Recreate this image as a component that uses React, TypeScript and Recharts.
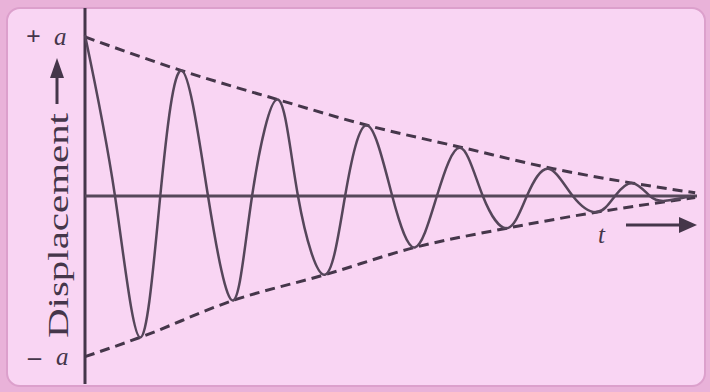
import { LineChart, Line, XAxis, YAxis, ReferenceLine } from "recharts"

// damped oscillation (t in 0..10, displacement in units of a)
const waveT = [0, 0.49, 0.9, 1.23, 1.58, 2.01, 2.42, 2.73, 3.15, 3.48, 3.92, 4.25, 4.61, 5.02, 5.39, 5.75, 6.13, 6.5, 6.9, 7.22, 7.57, 7.97, 8.37, 8.66, 8.95, 9.23, 9.48, 9.9]
const waveV = [1.0, 0, -0.88, 0, 0.78, 0, -0.65, 0, 0.6, 0, -0.49, 0, 0.44, 0, -0.32, 0, 0.3, 0, -0.2, 0, 0.17, 0, -0.1, 0, 0.08, 0, -0.03, 0]

const upperT = [0, 1.58, 3.15, 4.61, 6.18, 7.65, 8.95, 9.97]
const upperV = [0.99, 0.78, 0.6, 0.44, 0.3, 0.17, 0.08, 0.02]
const lowerT = [0, 0.9, 2.42, 3.92, 5.39, 6.9, 8.37, 9.97]
const lowerV = [-1.0, -0.88, -0.65, -0.49, -0.32, -0.2, -0.1, -0.01]

const wave = waveT.map((t, i) => ({ t, v: waveV[i] }))
const upper = upperT.map((t, i) => ({ t, v: upperV[i] }))
const lower = lowerT.map((t, i) => ({ t, v: lowerV[i] }))

const ink = "#45364a"
const serif = "'Liberation Serif', 'DejaVu Serif', serif"

export default function App() {
  return (
    <div style={{ position: "relative", width: 710, height: 392, background: "#e9b2d9", overflow: "hidden" }}>
      <style>{"body{margin:0}"}</style>
      <div
        style={{
          position: "absolute",
          left: 6,
          top: 7,
          width: 696,
          height: 376,
          background: "#f9d5f3",
          border: "2px solid #dca0cc",
          borderRadius: 14,
        }}
      />
      <div style={{ position: "absolute", left: 0, top: 0 }}>
        <LineChart width={710} height={392} data={wave} margin={{ top: 8, right: 13, bottom: 8, left: 85 }}>
          <XAxis type="number" dataKey="t" domain={[0, 10]} hide />
          <YAxis type="number" domain={[-1.17, 1.17]} hide />
          <ReferenceLine x={0} stroke={ink} strokeWidth={3} />
          <ReferenceLine y={0} stroke="#56485a" strokeWidth={3} />
          <Line
            data={upper}
            dataKey="v"
            type="monotone"
            stroke={ink}
            strokeWidth={3}
            strokeDasharray="10 6"
            dot={false}
            isAnimationActive={false}
          />
          <Line
            data={lower}
            dataKey="v"
            type="monotone"
            stroke={ink}
            strokeWidth={3}
            strokeDasharray="10 6"
            dot={false}
            isAnimationActive={false}
          />
          <Line
            dataKey="v"
            type="natural"
            stroke="#55465a"
            strokeWidth={2.5}
            dot={false}
            isAnimationActive={false}
          />
        </LineChart>
      </div>
      <svg width={710} height={392} style={{ position: "absolute", left: 0, top: 0, pointerEvents: "none" }}>
        <text
          transform="translate(68,338) rotate(-90)"
          fontFamily={serif}
          fontSize={30}
          fill={ink}
          textLength={225}
          lengthAdjust="spacingAndGlyphs"
        >
          Displacement
        </text>
        <line x1={57} y1={104} x2={57} y2={76} stroke={ink} strokeWidth={3} />
        <polygon points="57,58 50,78 64,78" fill={ink} />
        <text x={26} y={45} fontFamily={serif} fontSize={26} fontWeight="bold" fill={ink}>+</text>
        <text x={54} y={45} fontFamily={serif} fontSize={25} fontStyle="italic" fill={ink}>a</text>
        <text x={28} y={365} fontFamily={serif} fontSize={26} fontWeight="bold" fill={ink}>–</text>
        <text x={56} y={365} fontFamily={serif} fontSize={25} fontStyle="italic" fill={ink}>a</text>
        <text x={598} y={243} fontFamily={serif} fontSize={25} fontStyle="italic" fill={ink}>t</text>
        <line x1={626} y1={225} x2={682} y2={225} stroke={ink} strokeWidth={3} />
        <polygon points="697,225 679,217 679,233" fill={ink} />
      </svg>
    </div>
  )
}
